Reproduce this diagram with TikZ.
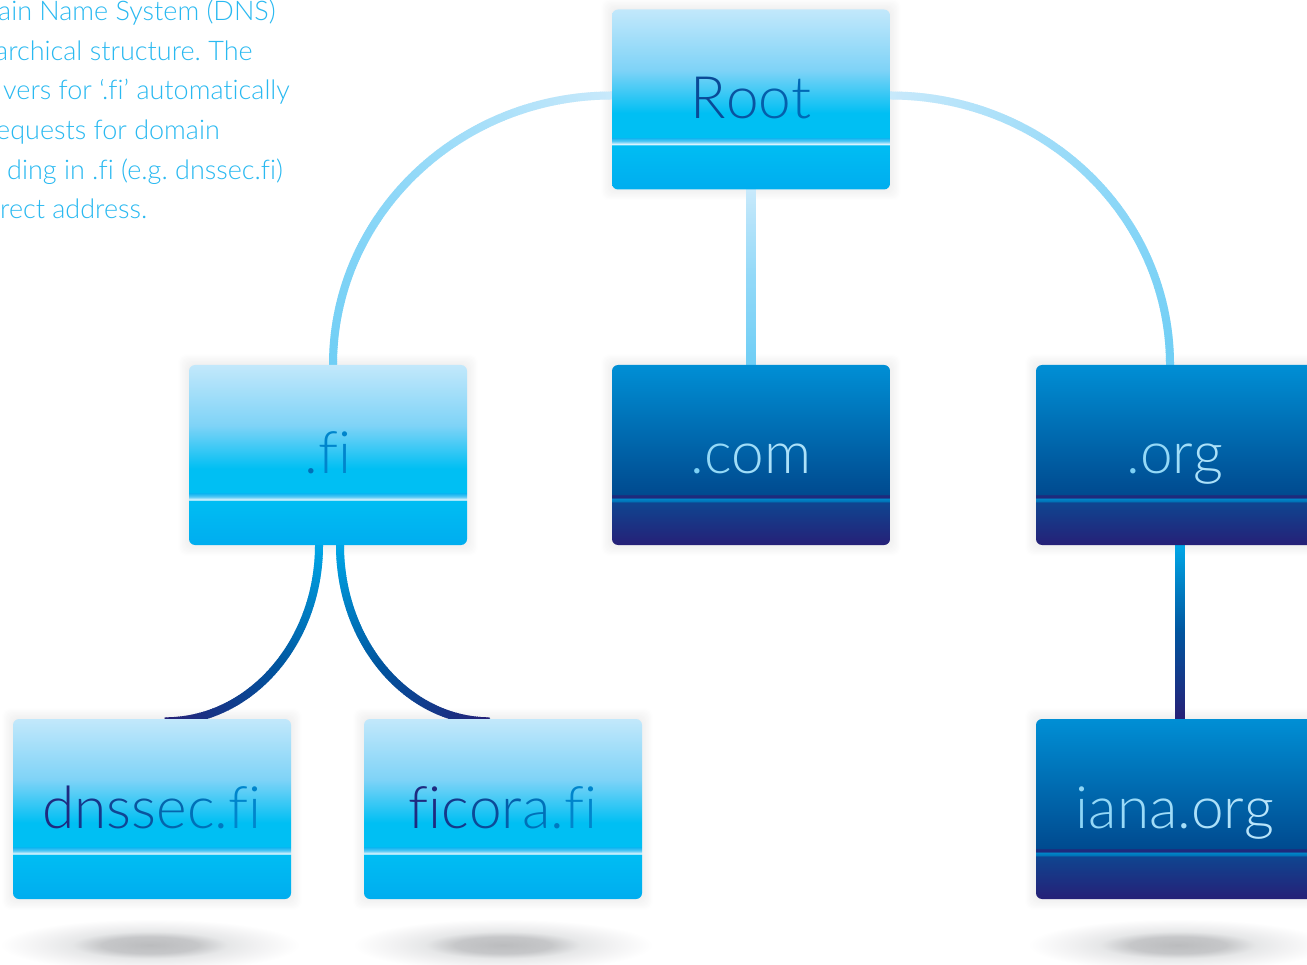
\documentclass[tikz,border=0pt]{standalone}
\usepackage{fontspec}
\setmainfont{Lato}[UprightFont=* Light,Ligatures=NoCommon]
\frenchspacing
\usetikzlibrary{backgrounds,decorations.markings,calc}
\pgfdeclarelayer{connectors}
\pgfsetlayers{background,connectors,main}
\definecolor{lightend}{HTML}{00ADEF}\definecolor{lightmid}{HTML}{00BDF3}
\definecolor{lightwhite}{HTML}{E4F7FF}\definecolor{lightband2}{HTML}{55C9F5}
\definecolor{lightband}{HTML}{00AEEF}\definecolor{lightmid2}{HTML}{00BFF3}
\definecolor{lightup}{HTML}{7FD3F7}\definecolor{lighttop}{HTML}{C2E8FB}
\definecolor{darkend}{HTML}{262077}\definecolor{darklow}{HTML}{0F4590}
\definecolor{darkglow}{HTML}{0088CB}\definecolor{darkglowb}{HTML}{006DB2}\definecolor{darkband}{HTML}{1E2A7C}
\definecolor{darkmid}{HTML}{004A8F}\definecolor{darktop}{HTML}{008FD5}
\definecolor{floorA}{HTML}{BBBCBE}\definecolor{floorB}{HTML}{C6C7C9}
\definecolor{floorC}{HTML}{E6E7E8}\definecolor{floorD}{HTML}{F1F1F2}
\definecolor{paleA}{HTML}{C8E9FB}\definecolor{paleB}{HTML}{93D9F8}\definecolor{paleC}{HTML}{6FCEF5}
\definecolor{deepA}{HTML}{00A8E8}\definecolor{deepB}{HTML}{00559F}\definecolor{deepC}{HTML}{262077}
\definecolor{bodytext}{HTML}{29B9F1}
\pgfdeclareverticalshading{lightbox}{100bp}{
 color(0bp)=(lightend); color(25bp)=(lightend);
 color(37.29bp)=(lightmid); color(37.57bp)=(lightwhite); color(38.41bp)=(lightband2);
 color(39.52bp)=(lightband); color(39.53bp)=(lightmid2); color(46.23bp)=(lightmid2);
 color(58.24bp)=(lightup); color(75bp)=(lighttop); color(100bp)=(lighttop)}
\pgfdeclareverticalshading{darkbox}{100bp}{
 color(0bp)=(darkend); color(25bp)=(darkend);
 color(36.9bp)=(darklow); color(36.91bp)=(darkglowb); color(38bp)=(darkglow);
 color(38.01bp)=(darkband); color(38.9bp)=(darkband); color(38.91bp)=(darkmid);
 color(75bp)=(darktop); color(100bp)=(darktop)}
\pgfdeclareradialshading{floorshade}{\pgfpoint{0bp}{0bp}}{
 color(0bp)=(floorA); color(8bp)=(floorB); color(13bp)=(floorC);
 color(18bp)=(floorD); color(25bp)=(white); color(50bp)=(white)}
\newcommand{\cc}[2]{{\color[HTML]{#1}#2}}
\tikzset{
 basebox/.style={rounded corners=6pt,minimum width=278pt,minimum height=180pt,inner sep=0pt,
   text height=38pt,text depth=0pt,font=\fontsize{58.5}{60}\selectfont,shade},
 lightnode/.style={basebox,shading=lightbox},
 darknode/.style={basebox,shading=darkbox},
 gradline/.style n args={4}{line width=#4pt-2pt,draw=#2,
   decoration={markings,mark=between positions 0 and 1 step 2pt with {
     \pgfmathsetmacro\gt{100*(\pgfkeysvalueof{/pgf/decoration/mark info/distance from start}/\pgfdecoratedpathlength)}
     \ifdim\gt pt<50pt
       \pgfmathsetmacro\gu{2*\gt}\colorlet{gc}{#2!\gu!#1}
     \else
       \pgfmathsetmacro\gu{2*\gt-100}\colorlet{gc}{#3!\gu!#2}
     \fi
     \draw[gc,line width=#4pt] (-1.3pt,0pt)--(1.3pt,0pt);
   }},postaction={decorate}},
 palearc/.style={gradline={paleA}{paleB}{paleC}{8}},
 palebar/.style={gradline={paleA}{paleB}{paleC}{10}},
 deeparc/.style={gradline={deepA}{deepB}{deepC}{8}},
 deepbar/.style={gradline={deepA}{deepB}{deepC}{10}},
 floor/.style={shade,shading=floorshade}
}
\begin{document}
\begin{tikzpicture}[x=1pt,y=-1pt]
\useasboundingbox (0,0) rectangle (1307,965);
\node[lightnode] (root) at (751,99.5) {\cc{0A4A97}{R}\cc{0A53A0}{o}\cc{055EAB}{o}\cc{0068B5}{t}};
\node[lightnode] (fi) at (328,455) {\cc{0070B8}{.}\cc{0085CC}{fi}};
\node[darknode] (com) at (751,455) {\cc{7CD0F5}{.}\cc{94D9F7}{c}\cc{A0DDF8}{o}\cc{ACE1F9}{m}};
\node[darknode] (org) at (1175,455) {\cc{7CD0F5}{.}\cc{94D9F7}{o}\cc{A0DDF8}{r}\cc{ACE1F9}{g}};
\node[lightnode] (dnssec) at (152,809) {\cc{1F2A80}{d}\cc{16368A}{n}\cc{104594}{s}\cc{0A549E}{s}\cc{0565AC}{e}\cc{0070B8}{c}\cc{0078C0}{.}\cc{0085CC}{fi}};
\node[lightnode] (ficora) at (503,809) {\cc{1F2A80}{fi}\cc{15388A}{c}\cc{0C4A98}{o}\cc{055EAA}{r}\cc{0070B8}{a}\cc{0078C0}{.}\cc{0085CC}{fi}};
\node[darknode] (iana) at (1175,809) {\cc{8ED6F6}{i}\cc{94D8F7}{a}\cc{9ADAF7}{n}\cc{A0DCF8}{a}\cc{A6DEF8}{.}\cc{ACE0F9}{o}\cc{B2E2F9}{r}\cc{B8E4FA}{g}};
\node[anchor=north west,align=left,inner sep=0pt,text=bodytext,font=\fontsize{27}{39.6}\selectfont] (body) at (0,0)
 {\hspace*{-2pt}ain Name System (DNS)\\\hspace*{-5pt}archical structure. The\\\hspace*{3pt}vers for ‘.fi’ automatically\\\hspace*{-4pt}equests for domain\\\hspace*{7pt}ding in .fi (e.g. dnssec.fi)\\rect address.};
\begin{pgfonlayer}{background}
\fill[white] (0,0) rectangle (1307,965);
\foreach \x in {150,503,1178}{
 \path[floor] (\x-150,919) rectangle (\x+150,971);
}
\foreach \n in {root,fi,com,org,dnssec,ficora,iana}{
 \foreach \s in {10,...,1}{
  \pgfmathsetmacro\p{(11-\s)*0.55}
  \fill[black!\p,rounded corners=7pt]
   ([shift={(-\s pt,-\s pt)}]\n.south west) rectangle ([shift={(\s pt,\s pt)}]\n.north east);
 }
}
\end{pgfonlayer}
\begin{pgfonlayer}{connectors}
\draw[palearc] ([yshift=4pt]root.west) .. controls (458,95.5) and (333,216) .. ([xshift=5pt]fi.north);
\draw[palearc] ([yshift=4pt]root.east) .. controls (1045,95.5) and (1170,216) .. ([xshift=-5pt]org.north);
\draw[palebar] (root.south) -- (com.north);
\draw[deeparc] ([xshift=-9pt]fi.south) .. controls (319,642.5) and (250,721.5) .. ([xshift=13pt,yshift=-2.5pt]dnssec.north);
\draw[deeparc] ([xshift=12pt]fi.south) .. controls (340,642.5) and (407.4,721.5) .. ([xshift=-13pt,yshift=-2.5pt]ficora.north);
\draw[deepbar] ([xshift=5pt]org.south) -- ([xshift=5pt]iana.north);
\end{pgfonlayer}
\end{tikzpicture}
\end{document}
